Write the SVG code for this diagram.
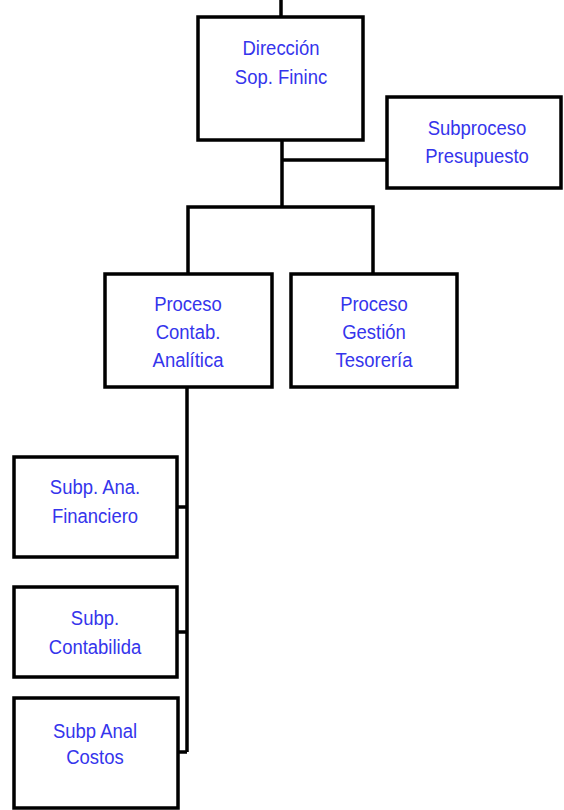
<svg xmlns="http://www.w3.org/2000/svg" width="564" height="810" viewBox="0 0 564 810">
<style>
.box{fill:#fff;stroke:#000;stroke-width:3.5}
.ln{stroke:#000;stroke-width:3.5;fill:none}
.t{font-family:"Liberation Sans",Arial,sans-serif;font-size:21px;fill:#3535ec;text-anchor:middle}
</style>
<rect width="564" height="810" fill="#fff"/>
<g id="connectors">
<line class="ln" x1="281" y1="0" x2="281" y2="17"/>
<line class="ln" x1="282" y1="140" x2="282" y2="207"/>
<line class="ln" x1="282" y1="160" x2="387" y2="160"/>
<polyline class="ln" points="188,274 188,207 373,207 373,274"/>
<line class="ln" x1="187" y1="387" x2="187" y2="752"/>
<line class="ln" x1="177" y1="507" x2="187" y2="507"/>
<line class="ln" x1="177" y1="632" x2="187" y2="632"/>
<line class="ln" x1="178" y1="752" x2="187" y2="752"/>
</g>
<g id="direccion">
<rect class="box" x="198" y="17" width="165" height="123"/>
<g transform="translate(281 0) scale(0.88 1)">
<text class="t" x="0" y="55">Dirección</text>
<text class="t" x="0" y="84">Sop. Fininc</text>
</g>
</g>
<g id="subproceso-presupuesto">
<rect class="box" x="387" y="97" width="174" height="91"/>
<g transform="translate(477 0) scale(0.88 1)">
<text class="t" x="0" y="135">Subproceso</text>
<text class="t" x="0" y="163">Presupuesto</text>
</g>
</g>
<g id="proceso-contab">
<rect class="box" x="105" y="274" width="167" height="113"/>
<g transform="translate(188 0) scale(0.88 1)">
<text class="t" x="0" y="311">Proceso</text>
<text class="t" x="0" y="339">Contab.</text>
<text class="t" x="0" y="367">Analítica</text>
</g>
</g>
<g id="proceso-gestion">
<rect class="box" x="291" y="274" width="166" height="113"/>
<g transform="translate(374 0) scale(0.88 1)">
<text class="t" x="0" y="311">Proceso</text>
<text class="t" x="0" y="339">Gestión</text>
<text class="t" x="0" y="367">Tesorería</text>
</g>
</g>
<g id="subp-financiero">
<rect class="box" x="14" y="457" width="163" height="100"/>
<g transform="translate(95 0) scale(0.88 1)">
<text class="t" x="0" y="494">Subp. Ana.</text>
<text class="t" x="0" y="523">Financiero</text>
</g>
</g>
<g id="subp-contabilida">
<rect class="box" x="14" y="587" width="163" height="90"/>
<g transform="translate(95 0) scale(0.88 1)">
<text class="t" x="0" y="625">Subp.</text>
<text class="t" x="0" y="654">Contabilida</text>
</g>
</g>
<g id="subp-costos">
<rect class="box" x="14" y="698" width="164" height="110"/>
<g transform="translate(95 0) scale(0.88 1)">
<text class="t" x="0" y="738">Subp Anal</text>
<text class="t" x="0" y="764">Costos</text>
</g>
</g>
</svg>
